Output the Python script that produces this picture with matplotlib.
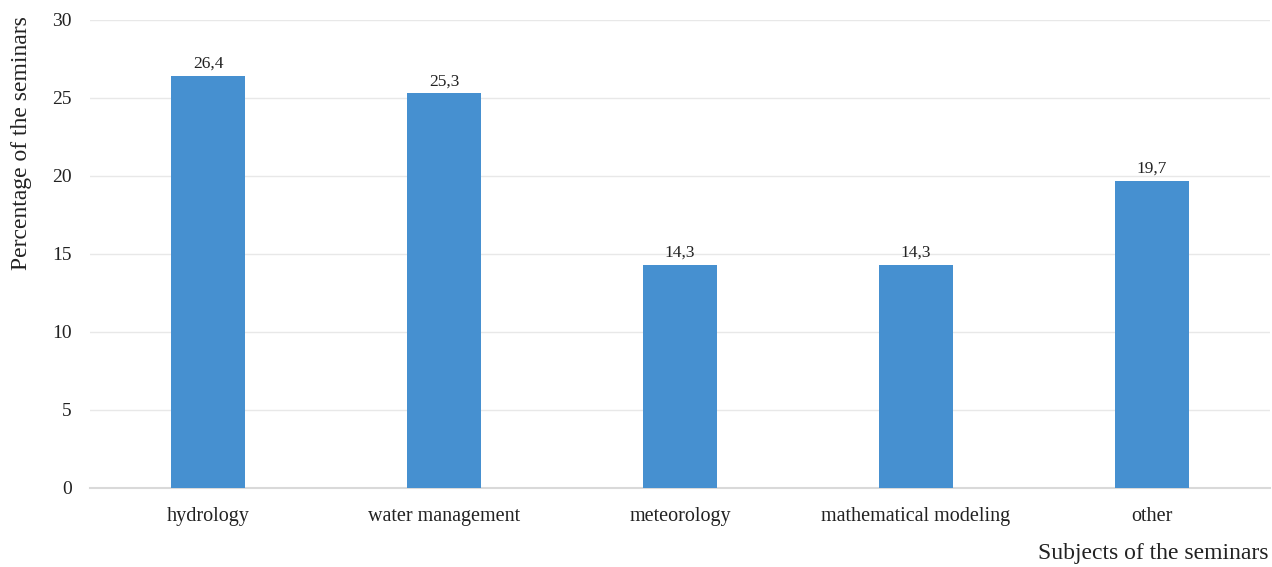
import matplotlib
matplotlib.use("Agg")
import matplotlib.pyplot as plt

categories = ["hydrology", "water management", "meteorology", "mathematical modeling", "other"]
values = [26.4, 25.3, 14.3, 14.3, 19.7]
yticks = [0, 5, 10, 15, 20, 25, 30]

plt.rcParams['font.family'] = ['Liberation Serif', 'DejaVu Serif']

W, H = 1272, 567
fig = plt.figure(figsize=(W / 100, H / 100), dpi=100)
ax = fig.add_axes([90 / W, (H - 488) / H, 1180 / W, 468 / H])

x = list(range(len(categories)))
bars = ax.bar(x, values, width=0.314, color="#4690D0", zorder=3)
ax.set_xlim(-0.5, len(categories) - 0.5)
ax.set_ylim(0, 30)
ax.set_yticks(yticks)
ax.set_yticklabels([str(t) for t in yticks], fontsize=14, color="#222222")
ax.set_xticks(x)
ax.set_xticklabels(categories, fontsize=14.5, color="#222222")
ax.tick_params(axis='y', length=0, pad=13)
ax.tick_params(axis='x', length=0, pad=14)
ax.grid(axis='y', color="#e8e8e8", linewidth=1, zorder=0)
for s in ["top", "right", "left"]:
    ax.spines[s].set_visible(False)
ax.spines["bottom"].set_color("#d9d9d9")
ax.spines["bottom"].set_linewidth(1.5)

for xi, v in zip(x, values):
    ax.annotate(f"{v:.1f}".replace('.', ','), (xi, v), xytext=(0, 3),
                textcoords="offset points", ha="center", va="bottom",
                fontsize=12.5, color="#222222")

fig.text(22 / W, (H - 143) / H, "Percentage of the seminars", rotation=90,
         ha="center", va="center", fontsize=17, color="#222222")
fig.text(1268 / W, (H - 553) / H, "Subjects of the seminars",
         ha="right", va="center", fontsize=17, color="#222222")

fig.savefig("out.png", dpi=100, facecolor="white")
